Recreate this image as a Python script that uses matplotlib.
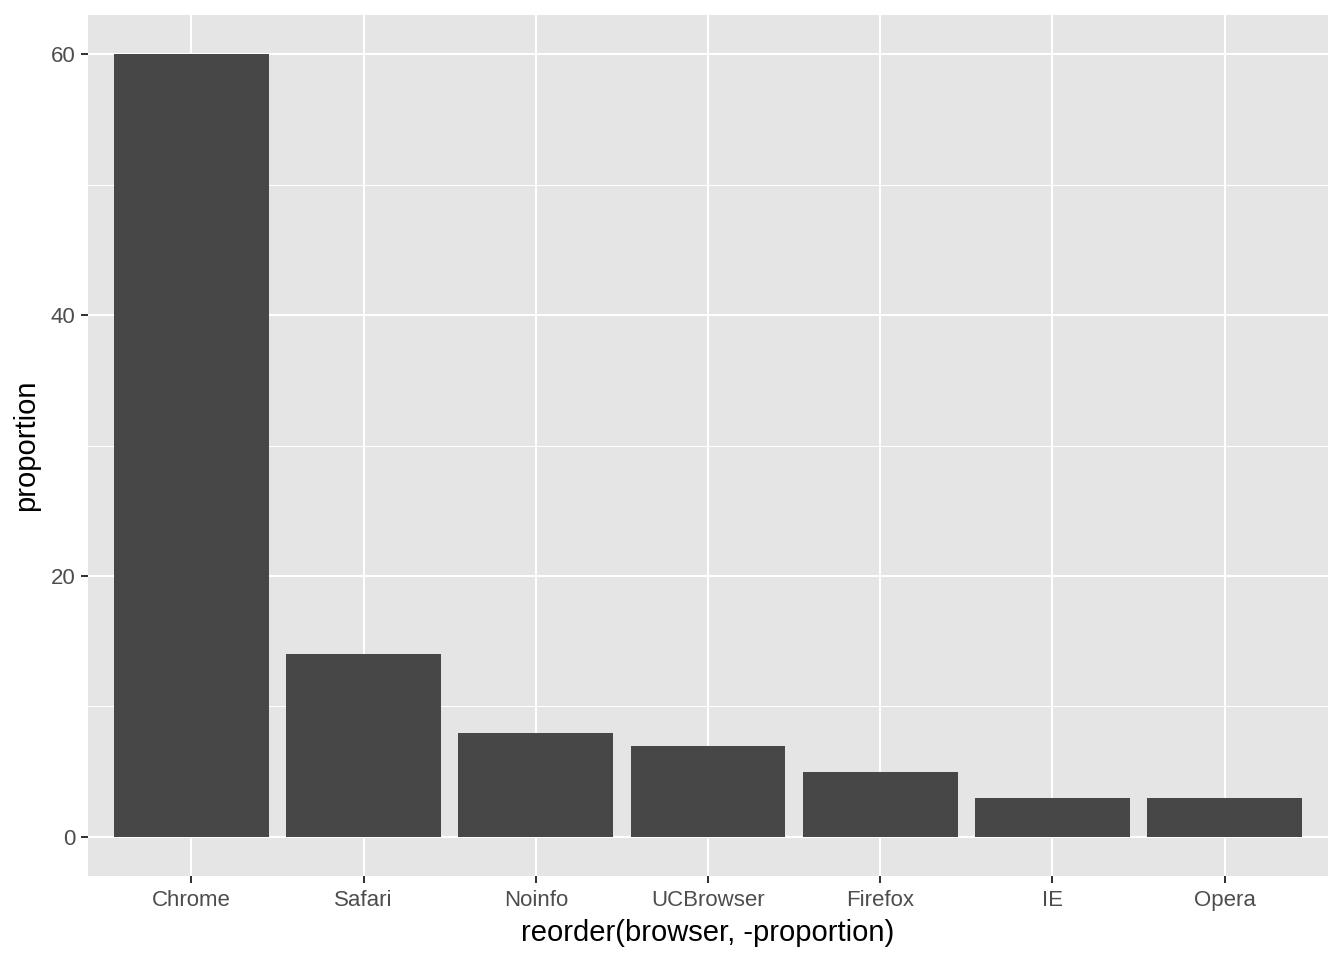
import matplotlib
matplotlib.use("Agg")
import matplotlib.pyplot as plt
import numpy as np

browsers = ["Chrome", "Safari", "Noinfo", "UCBrowser", "Firefox", "IE", "Opera"]
proportion = [60, 14, 8, 7, 5, 3, 3]
y_ticks = [0, 20, 40, 60]
y_minor = [10, 30, 50]

plt.rcParams['font.family'] = ['Liberation Sans', 'DejaVu Sans']

fig = plt.figure(figsize=(13.44, 9.6), dpi=100)
ax = fig.add_axes([88 / 1344, 1 - 876 / 960, (1328 - 88) / 1344, (876 - 15) / 960])

x = np.arange(1, len(browsers) + 1)
ax.set_facecolor('#E5E5E5')

# grid lines first, bars on top
for v in y_minor:
    ax.axhline(v, color='white', lw=0.75, zorder=1)
for v in y_ticks:
    ax.axhline(v, color='white', lw=1.45, zorder=1)
for xi in x:
    ax.axvline(xi, color='white', lw=1.45, zorder=1)

ax.bar(x, proportion, width=0.9, color='#474747', zorder=2)

ax.set_xlim(0.4, len(browsers) + 0.6)
ax.set_ylim(-3, 63)
ax.set_xticks(x)
ax.set_xticklabels(browsers)
ax.set_yticks(y_ticks)

for s in ax.spines.values():
    s.set_visible(False)

ax.tick_params(axis='both', length=5, width=1.45, color='#333333',
               labelcolor='#4D4D4D', labelsize=16)
ax.tick_params(axis='x', pad=5)
ax.tick_params(axis='y', pad=4)

ax.set_xlabel("reorder(browser, -proportion)", fontsize=21, color='black', labelpad=6)
ax.set_ylabel("proportion", fontsize=21, color='black', labelpad=8)

fig.savefig("out.png", dpi=100)
